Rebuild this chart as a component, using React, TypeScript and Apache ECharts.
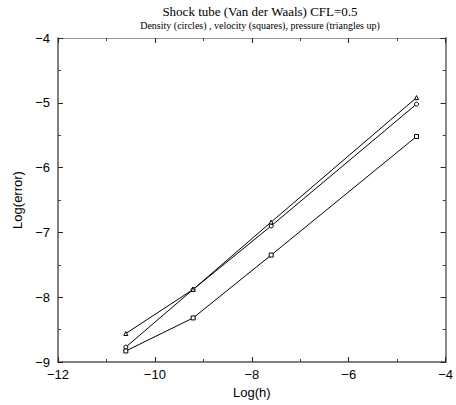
import React, { useEffect, useRef } from "react";
import * as echarts from "echarts";

const logH = [-10.6, -9.21, -7.6, -4.6];
const density = [-8.77, -7.88, -6.9, -5.02];
const velocity = [-8.83, -8.32, -7.35, -5.52];
const pressure = [-8.56, -7.88, -6.84, -4.92];

const title = "Shock tube (Van der Waals) CFL=0.5";
const subtitle = "Density (circles) , velocity (squares), pressure (triangles up)";

const pairs = (ys: number[]) => logH.map((x, i) => [x, ys[i]]);
const fmt = (v: number) => (v < 0 ? "\u2212" + Math.abs(v) : String(v));

export default function App() {
  const ref = useRef<HTMLDivElement>(null);
  useEffect(() => {
    if (!ref.current) return;
    const chart = echarts.init(ref.current, null, { renderer: "svg" });
    const axisLine = { show: true, lineStyle: { color: "#555", width: 1.5 } };
    const tickMain = { show: true, inside: true, length: 5, lineStyle: { color: "#222" } };
    const minor = { show: true, splitNumber: 2, length: 3, lineStyle: { color: "#444" } };
    const lbl = { fontFamily: "Liberation Sans, Arial, sans-serif", fontSize: 13, color: "#000", formatter: fmt };
    const mkSeries = (name: string, ys: number[], symbol: string) => ({
      name,
      type: "line",
      data: pairs(ys),
      symbol,
      symbolSize: 4,
      showAllSymbol: true,
      lineStyle: { color: "#000", width: 1 },
      itemStyle: { color: "#fff", borderColor: "#000", borderWidth: 1 },
    });
    chart.setOption({
      animation: false,
      backgroundColor: "#fff",
      title: [
        {
          text: title,
          left: 255,
          textAlign: "center",
          top: 0,
          textStyle: { fontFamily: "Liberation Serif, Times New Roman, serif", fontSize: 13, fontWeight: "normal", color: "#000" },
        },
        {
          text: subtitle,
          left: 255,
          textAlign: "center",
          top: 15,
          textStyle: { fontFamily: "Liberation Serif, Times New Roman, serif", fontSize: 10, fontWeight: "normal", color: "#000" },
        },
      ],
      grid: { left: 58, right: 4, top: 38, bottom: 43 },
      xAxis: [
        {
          type: "value",
          min: -12,
          max: -4,
          interval: 2,
          name: "Log(h)",
          nameLocation: "middle",
          nameGap: 22,
          nameTextStyle: { fontFamily: "Liberation Sans, Arial, sans-serif", fontSize: 13, color: "#000" },
          axisLine,
          axisTick: tickMain,
          minorTick: minor,
          splitLine: { show: false },
          axisLabel: { ...lbl, margin: 6, showMaxLabel: true, showMinLabel: true },
        },
        {
          type: "value",
          position: "top",
          min: -12,
          max: -4,
          interval: 2,
          axisLine: { show: true, lineStyle: { color: "#999", width: 1 } },
          axisTick: tickMain,
          minorTick: minor,
          splitLine: { show: false },
          axisLabel: { show: false },
        },
      ],
      yAxis: [
        {
          type: "value",
          min: -9,
          max: -4,
          interval: 1,
          name: "Log(error)",
          nameLocation: "middle",
          nameGap: 34,
          nameRotate: 90,
          nameTextStyle: { fontFamily: "Liberation Sans, Arial, sans-serif", fontSize: 13, color: "#000" },
          axisLine,
          axisTick: tickMain,
          minorTick: minor,
          splitLine: { show: false },
          axisLabel: { ...lbl, margin: 8 },
        },
        {
          type: "value",
          position: "right",
          min: -9,
          max: -4,
          interval: 1,
          axisLine: { show: true, lineStyle: { color: "#888", width: 2 } },
          axisTick: tickMain,
          minorTick: minor,
          splitLine: { show: false },
          axisLabel: { show: false },
        },
      ],
      series: [
        mkSeries("density", density, "circle"),
        mkSeries("velocity", velocity, "rect"),
        mkSeries("pressure", pressure, "triangle"),
      ],
    });
    return () => chart.dispose();
  }, []);
  return (
    <div
      ref={ref}
      style={{ position: "fixed", left: 0, top: 0, width: 456, height: 405, background: "#fff" }}
    />
  );
}
